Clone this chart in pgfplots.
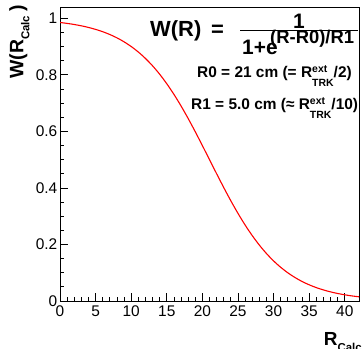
\documentclass[border=0pt]{standalone}
\usepackage{pgfplots}
\pgfplotsset{compat=1.18}
\usepackage{fontspec}
\setmainfont{Liberation Sans}
\begin{document}
\begin{tikzpicture}
\path[use as bounding box] (-60bp,-48bp) rectangle (304bp,301bp);
\begin{axis}[
  at={(0,0)}, anchor=south west,
  scale only axis, width=299bp, height=294bp,
  xmin=0, xmax=42, ymin=0, ymax=1.04,
  xtick={0,5,...,40}, ytick={0,0.2,0.4,0.6,0.8,1},
  minor x tick num=4, minor y tick num=3,
  tick pos=left, tick align=inside,
  major tick length=8bp, minor tick length=4bp,
  axis line style={line width=0.8bp},
  every tick/.style={black, line width=0.8bp},
  /pgf/number format/assume math mode=true,
  yticklabel style={/pgf/number format/fixed, font=\fontsize{15.5}{15.5}\selectfont, inner sep=0pt},
  xticklabel style={font=\fontsize{15.5}{15.5}\selectfont, inner sep=0pt},
  xticklabel shift=5bp, yticklabel shift=2.5bp,
  xlabel={R\raisebox{-6bp}{\fontsize{11.5}{11.5}\selectfont Calc}},
  ylabel={W(R\raisebox{-6bp}{\fontsize{11.5}{11.5}\selectfont Calc}\hspace{4bp})},
  xlabel style={at={(axis description cs:1.01,-0.1054)}, anchor=north east, inner sep=0pt, font=\bfseries\fontsize{19}{19}\selectfont},
  ylabel style={at={(axis description cs:-0.1706,1.0068)}, anchor=north east, inner sep=0pt, font=\bfseries\fontsize{19.5}{19.5}\selectfont},
]
\addplot[red, line width=1.1bp, smooth] coordinates {
(0,0.9852) (1,0.9820) (2,0.9781) (3,0.9734) (4,0.9677) (5,0.9608) (6,0.9526)
(7,0.9427) (8,0.9309) (9,0.9168) (10,0.9002) (11,0.8808) (12,0.8581) (13,0.8320)
(14,0.8022) (15,0.7685) (16,0.7311) (17,0.6900) (18,0.6457) (19,0.5987) (20,0.5498)
(21,0.5000) (22,0.4502) (23,0.4013) (24,0.3543) (25,0.3100) (26,0.2689) (27,0.2315)
(28,0.1978) (29,0.1680) (30,0.1419) (31,0.1192) (32,0.0998) (33,0.0832) (34,0.0691)
(35,0.0573) (36,0.0474) (37,0.0392) (38,0.0323) (39,0.0266) (40,0.0219) (41,0.0180)
(42,0.0148)
};
\end{axis}
\begin{scope}[every node/.style={inner sep=0pt, font=\bfseries}]
\node[anchor=base west, font=\bfseries\fontsize{22}{22}\selectfont] at (90bp,264.3bp) {W(R)\hspace{0.45em}=};
\node[anchor=base, font=\bfseries\fontsize{21}{21}\selectfont] at (239bp,272.7bp) {1};
\draw[line width=0.8bp] (180bp,270.3bp) -- (298bp,270.3bp);
\node[anchor=base west, font=\bfseries\fontsize{21}{21}\selectfont] at (182bp,246bp) {1+e};
\node[anchor=base west, font=\bfseries\fontsize{18.5}{18.5}\selectfont] at (210bp,257.5bp) {(R-R0)/R1};
\node[anchor=base west, font=\bfseries\fontsize{15.5}{15.5}\selectfont] at (137bp,223bp)
  {R0 = 21 cm (= R\rlap{\raisebox{5.5bp}{\fontsize{10.5}{10.5}\selectfont ext}}\raisebox{-8.5bp}{\fontsize{10.5}{10.5}\selectfont TRK}/2)};
\node[anchor=base west, font=\bfseries\fontsize{15.5}{15.5}\selectfont] at (131bp,191bp)
  {R1 = 5.0 cm (≈ R\rlap{\raisebox{5.5bp}{\fontsize{10.5}{10.5}\selectfont ext}}\raisebox{-8.5bp}{\fontsize{10.5}{10.5}\selectfont TRK}/10)};
\end{scope}
\end{tikzpicture}
\end{document}
